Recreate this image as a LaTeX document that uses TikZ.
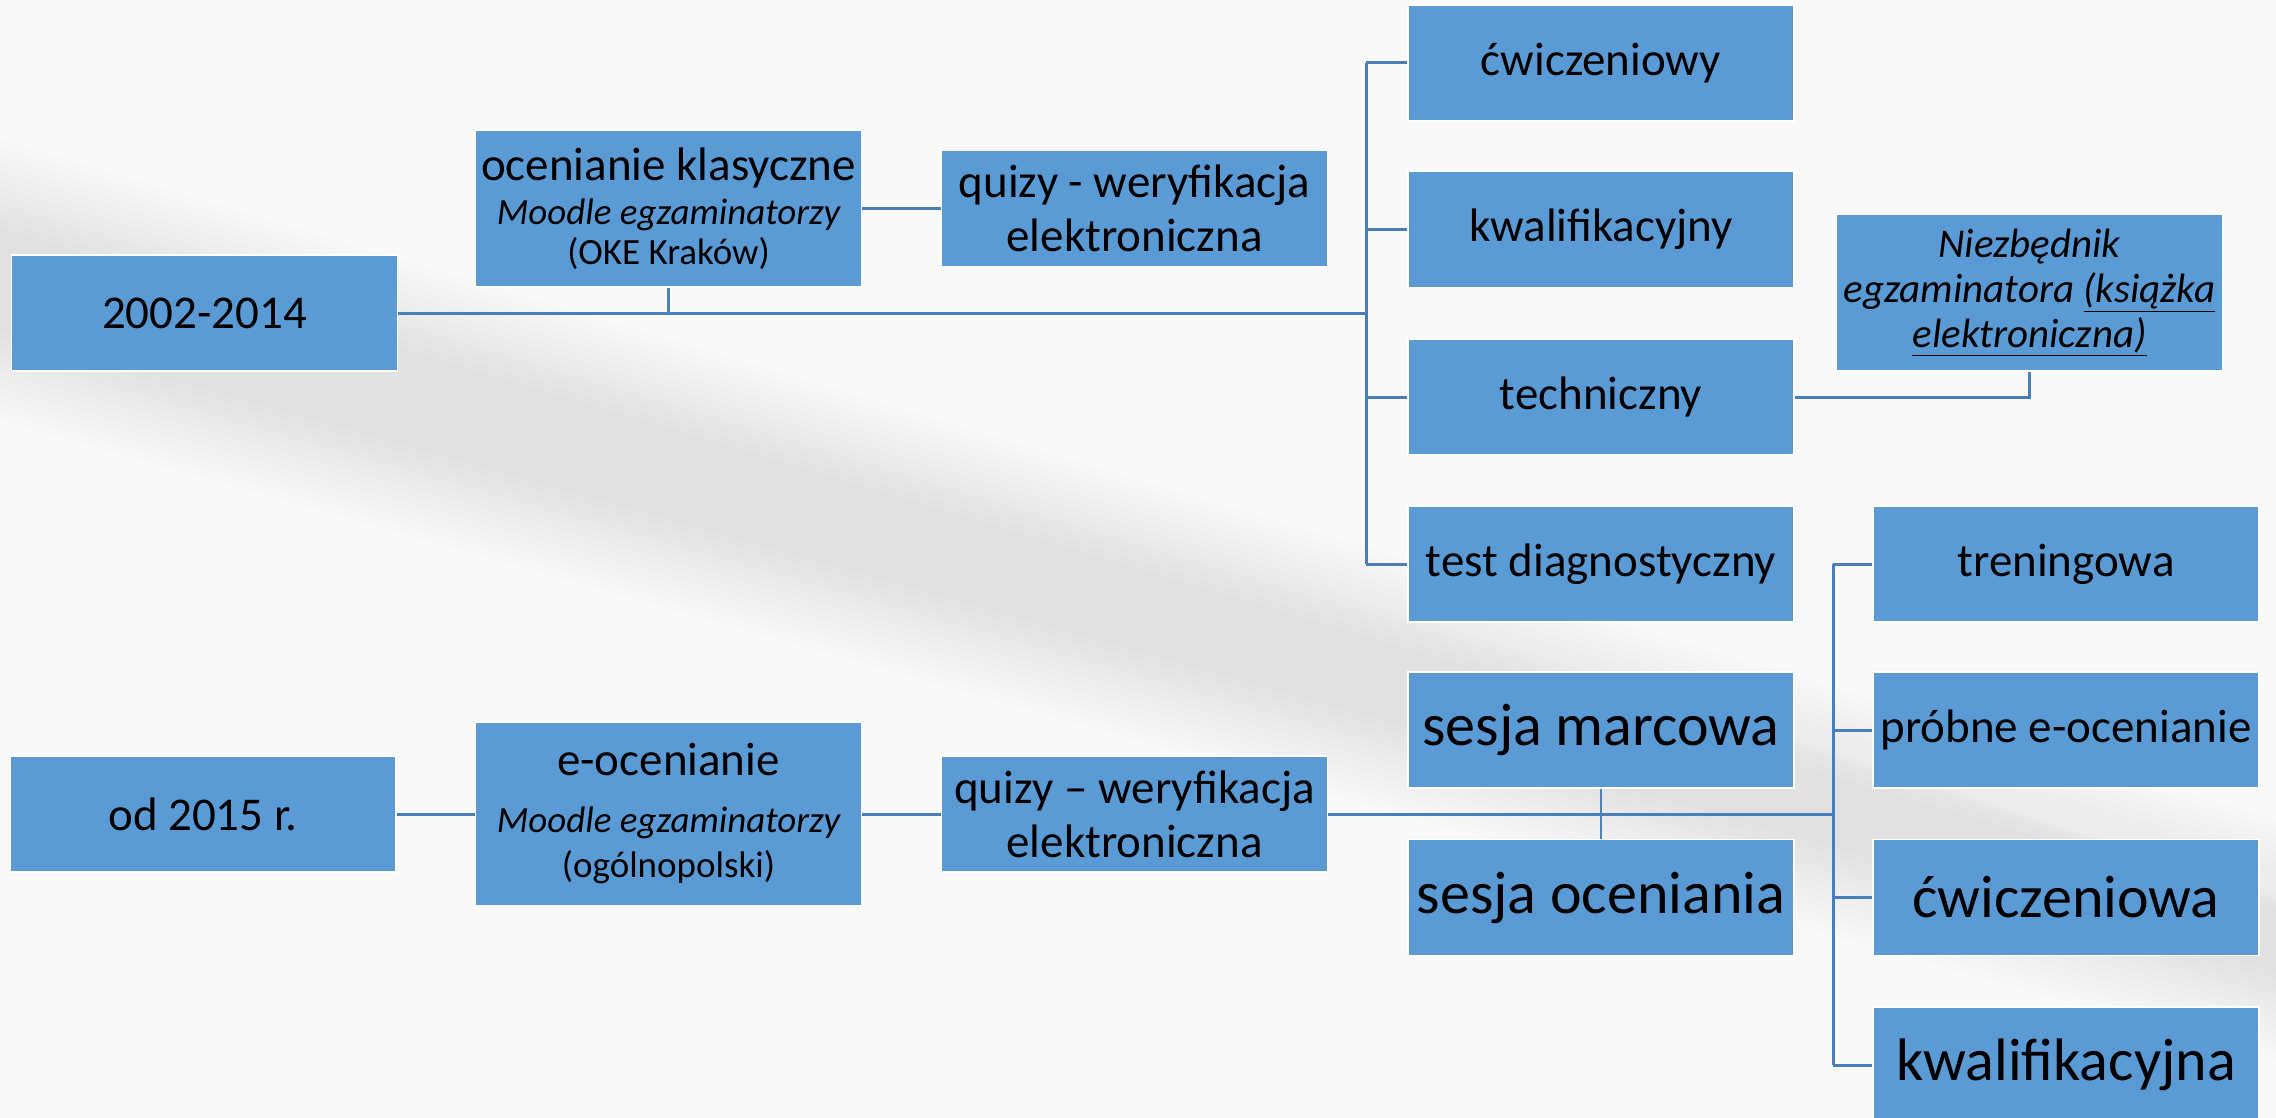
\documentclass[tikz,border=0pt]{standalone}
\usepackage{fontspec}
\setmainfont{Carlito}
\definecolor{boxblue}{HTML}{5B9BD5}
\definecolor{lineblue}{HTML}{4A7EBB}
\definecolor{bgcol}{HTML}{F9F9F9}
\begin{document}
\begin{tikzpicture}[x=1pt,y=-1pt,
  box/.style={rectangle,fill=boxblue,draw=white,line width=1.5pt,
    minimum width=386pt,minimum height=116pt,inner sep=2pt,align=center,
    font=\fontsize{47}{54}\selectfont},
  bigbox/.style={box,font=\fontsize{60}{66}\selectfont},
  conn/.style={draw=lineblue,line width=3pt},
  thin/.style={draw=boxblue!85!black,line width=2.5pt}]
% background
\fill[bgcol] (0,0) rectangle (2276,1118);
\foreach \k in {0,...,11}{
  \fill[black,opacity=0.006] (0,{140+8*\k}) -- (2276,{820+8*\k}) -- (2276,{1060-8*\k}) -- (0,{420-8*\k}) -- cycle;
}
\foreach \k in {0,...,7}{
  \fill[white,opacity=0.05] (560,{300+2*\k}) -- (2276,{870+2*\k}) -- (2276,{905-2*\k}) -- (560,{330-2*\k}) -- cycle;
}
\useasboundingbox (0,0) rectangle (2276,1118);

% nodes
\node[box] (a) at (204.5,313) {2002-2014};
\node[box,minimum height=157pt,font=\fontsize{37}{40}\selectfont] (b) at (668.5,208.5) {{\fontsize{47}{54}\selectfont ocenianie klasyczne}\\[4pt]{\itshape Moodle egzaminatorzy}\\(OKE Kraków)};
\node[box] (c) at (1134.5,208.5) {quizy - weryfikacja\\elektroniczna};
\node[box] (d) at (1601,63) {ćwiczeniowy};
\node[box] (e) at (1601,229.5) {kwalifikacyjny};
\node[box] (f) at (1601,397) {techniczny};
\node[box] (g) at (1601,564) {test diagnostyczny};
\node[box,minimum height=157pt,font=\fontsize{41}{45}\selectfont\itshape] (h) at (2029.5,292.5) {Niezbędnik\\egzaminatora \underline{(książka}\\\underline{elektroniczna)}};
\node[box] (i) at (2066,564) {treningowa};
\node[box] (j) at (2066,730) {próbne e-ocenianie};
\node[bigbox] (k) at (2066,897.5) {ćwiczeniowa};
\node[bigbox] (l) at (2066,1065) {kwalifikacyjna};
\node[bigbox] (m) at (1601,730) {sesja marcowa};
\node[bigbox] (n) at (1601,897.5) {sesja oceniania};
\node[box] (o) at (203,814) {od 2015 r.};
\node[box,minimum height=184pt,font=\fontsize{37}{45}\selectfont] (p) at (668.5,814) {{\fontsize{47}{54}\selectfont e-ocenianie}\\[12pt]{\itshape Moodle egzaminatorzy}\\(ogólnopolski)};
\node[box] (q) at (1134.5,814) {quizy – weryfikacja\\elektroniczna};

% coordinates
\coordinate (t1) at (1366,313);
\coordinate (t1top) at (1366,63);
\coordinate (t1bot) at (1366,564);
\coordinate (t2) at (1833,814);
\coordinate (t2top) at (1833,564);
\coordinate (t2bot) at (1833,1065);

% top connectors
\draw[conn] (a.east) -- (t1);
\draw[thin] (b.south) -- (b.south |- t1);
\draw[conn] (b.east) -- (c.west);
\draw[conn] (t1top) -- (t1bot);
\draw[conn] (t1top) -- (d.west);
\draw[conn] (t1 |- e.west) -- (e.west);
\draw[conn] (t1 |- f.west) -- (f.west);
\draw[conn] (t1bot) -- (g.west);
\draw[conn] (f.east) -- (f.east -| h.south) -- (h.south);

% bottom connectors
\draw[conn] (o.east) -- (p.west);
\draw[conn] (p.east) -- (q.west);
\draw[conn] (q.east) -- (t2);
\draw[thin] (m.south) -- (n.north);
\draw[conn] (t2top) -- (t2bot);
\draw[conn] (t2top) -- (i.west);
\draw[conn] (t2 |- j.west) -- (j.west);
\draw[conn] (t2 |- k.west) -- (k.west);
\draw[conn] (t2bot) -- (l.west);
\end{tikzpicture}
\end{document}
